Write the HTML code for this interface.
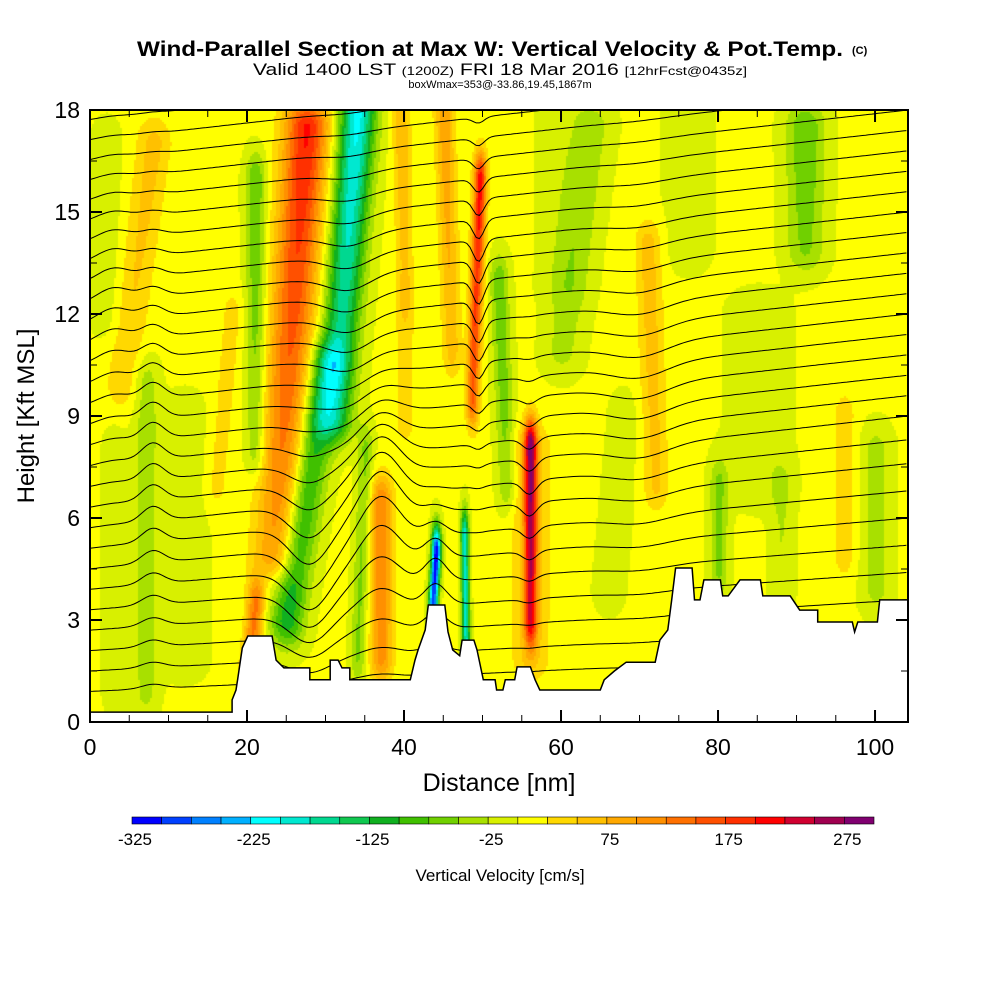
<!DOCTYPE html>
<html><head><meta charset="utf-8">
<style>
body{margin:0;background:#fff;width:1000px;height:1000px;overflow:hidden;font-family:"Liberation Sans",sans-serif}
#wrap{position:relative;width:1000px;height:1000px}
canvas{position:absolute;left:90px;top:110px}
svg{position:absolute;left:0;top:0}
</style></head><body>
<div id="wrap">
<canvas id="cv" width="818" height="612"></canvas>
<svg id="sv" width="1000" height="1000"></svg>
</div>
<script>
// ---- data ----
const terrainX=[0,18.1,18.1,18.6,18.8,19.4,20.1,23.2,23.7,24.7,28.0,28.0,30.6,30.6,31.6,32.1,33.1,33.1,40.8,41.4,41.8,42.7,43.1,45.2,45.6,46.2,47.1,47.4,48.9,49.3,50.1,51.6,51.8,52.6,52.9,54.1,54.4,56.1,56.7,57.3,65.0,65.5,66.8,68.3,72.0,72.6,73.6,74.1,74.6,76.7,77.0,77.7,78.2,80.3,80.6,81.3,82.8,85.4,85.7,89.2,90.4,92.7,92.7,97.1,97.4,97.8,100.3,100.6,104.2];
const terrainZ=[0.29,0.29,0.65,0.94,1.24,2.18,2.53,2.53,1.82,1.59,1.59,1.24,1.24,1.82,1.82,1.59,1.59,1.24,1.24,1.82,2.12,2.71,3.44,3.44,2.65,2.12,1.95,2.41,2.41,2.12,1.24,1.24,0.94,0.94,1.24,1.24,1.62,1.62,1.24,0.94,0.94,1.24,1.5,1.76,1.76,2.41,2.71,3.59,4.53,4.53,3.59,3.59,4.18,4.18,3.71,3.71,4.18,4.18,3.71,3.71,3.29,3.29,2.94,2.94,2.65,2.94,2.94,3.59,3.59];
// w features: segment from (x0,z0,a0) top to (x1,z1,a1) bottom, gaussian width
const featX0=[27.5,34,30,21,49.6,56,44,47.6,37,35,45,39.5,52,91,8,21,7,80,64,71,56, 12,2,60,85,100,96,76,40,18,3,68,88];
const featZ0=[17.5,18,10.5,16,16,8.2,5,5.5,6.5,8,18,18,13,17.5,17,3.5,10,7,17.5,14,8, 9,17,18,12,8,9,18,12,12,8,9,7];
const featA0=[200,-215,-110,-80,210,230,-330,-200,120,-60,90,70,-75,-80,55,130,-45,-60,-40,60,60, -20,-20,-20,-20,-40,35,-20,40,30,-20,-20,-30];
const featX1=[23.5,31,25,21,48.6,56,43.6,47.8,37,34,46,40,53,91,4,20,7,80,60,72,56, 12,2,60,85,100,96,76,40,16,3,66,88];
const featZ1=[5,9,3,8,9.5,3,3.6,2,2,2,11,13,7,14,10,1,1,4.5,11,7,2, 2,12,13,7,4,5,14,9,7,1,4,4];
const featA1=[100,-140,-120,-60,150,180,-300,-190,110,-60,60,50,-60,-60,40,120,-40,-60,-40,50,50, -20,-20,-20,-20,-40,35,-20,40,30,-20,-20,-30];
const featW=[2.8,2.3,2.2,1.3,0.8,0.8,0.6,0.5,1.4,1.0,1.2,1.1,1.2,2.5,2.2,1.1,1.6,1.2,2.5,1.6,2.4, 3,2,3,4,2,1.5,3,1.2,1.5,1.5,2,1.5];
const baseW=5;
// theta contour base heights (left, right), kft
const thetaZL=[0.9,1.5,2.1,2.7,3.3,3.9,4.5,5.1,5.7,6.3,6.9,7.5,8.1,8.7,9.3,9.9,10.5,11.1,11.7,12.3,12.9,13.5,14.1,14.7,15.3,15.9,16.5,17.1,17.7];
const thetaZR=[2.0,2.8,3.6,4.4,5.2,6.0,6.8,7.6,8.3,9.0,9.6,10.2,10.8,11.4,12.0,12.6,13.2,13.8,14.4,15.0,15.6,16.2,16.8,17.4,18.0,18.6,19.2,19.8,20.4];
// displacement bumps
const bumpX=[37,28,49.5,56,8,44,33,3,70];
const bumpZ=[6,5,13,7,8,4,12,12,10];
const bumpA=[1.4,-1.2,-0.7,-0.4,0.5,0.7,-0.5,0.4,-0.4];
const bumpWx=[3.5,3.5,1.0,1.3,2,2,4,3,5];
const bumpWz=[3,3,4,3,6,2,4,4,5];
const colorbarEdges=[-325,-300,-275,-250,-225,-200,-175,-150,-125,-100,-75,-50,-25,0,25,50,75,100,125,150,175,200,225,250,275,300];
const colorbarLabels=[-325,-225,-125,-25,75,175,275];
const xTicks=[0,20,40,60,80,100];
const yTicks=[0,3,6,9,12,15,18];
const colors=["#0000ff","#0040ff","#0080ff","#00b0ff","#00ffff","#00e8d0","#00d890","#10c850","#10b020","#40c000","#70d000","#a8e000","#d8f000","#ffff00","#ffd800","#ffc000","#ffa800","#ff9000","#ff7000","#ff5000","#ff3000","#ff0000","#d00030","#a00050","#800070"];
// ---- axes ----
const PX0=90,PX1=908,PY0=722,PY1=110;
const sx=x=>PX0+x*(818/104.2);
const sy=z=>PY0-z*(612/18);
function wAt(x,z){let w=baseW;for(let i=0;i<featX0.length;i++){const zt=featZ0[i],zb=featZ1[i];let t=(z-zb)/(zt-zb),f=1;if(t<0){f=Math.exp(-Math.pow((z-zb)/0.8,2));t=0}else if(t>1){f=Math.exp(-Math.pow((z-zt)/0.8,2));t=1}const xc=featX1[i]+t*(featX0[i]-featX1[i]);const a=featA1[i]+t*(featA0[i]-featA1[i]);w+=f*a*Math.exp(-Math.pow((x-xc)/featW[i],2));}return w;}
const cv=document.getElementById('cv'),ctx=cv.getContext('2d');
for(let py=0;py<612;py+=2)for(let px=0;px<818;px+=2){const x=px*104.2/818,z=18-py*18/612;let idx=Math.floor((wAt(x,z)+325)/25);idx=Math.max(0,Math.min(24,idx));ctx.fillStyle=colors[idx];ctx.fillRect(px,py,2,2);}
const NS='http://www.w3.org/2000/svg',sv=document.getElementById('sv');
function mk(t,a,parent){const e=document.createElementNS(NS,t);for(const k in a)e.setAttribute(k,a[k]);(parent||sv).appendChild(e);return e;}
// theta lines
const gT=mk('g',{});


mk('clipPath',{id:'pc'}).appendChild(document.createElementNS(NS,'rect'));
const cr=sv.querySelector('#pc rect');cr.setAttribute('x',PX0);cr.setAttribute('y',PY1);cr.setAttribute('width',818);cr.setAttribute('height',612);
gT.setAttribute('clip-path','url(#pc)');
for(let i=0;i<thetaZL.length;i++){let d='';for(let x=0;x<=104.2;x+=0.4){const f=x/104.2;let z=thetaZL[i]+(thetaZR[i]-thetaZL[i])*f;let dz=0;for(let j=0;j<bumpX.length;j++)dz+=bumpA[j]*Math.exp(-Math.pow((x-bumpX[j])/bumpWx[j],2)-Math.pow((z-bumpZ[j])/bumpWz[j],2));z+=dz;d+=(d?'L':'M')+sx(x).toFixed(1)+','+sy(z).toFixed(1);}
const p=mk('path',{d:d,fill:'none',stroke:'#000','stroke-width':1},gT);

}
// terrain
let td='M'+sx(terrainX[0])+','+sy(0);for(let i=0;i<terrainX.length;i++)td+='L'+sx(terrainX[i]).toFixed(1)+','+sy(terrainZ[i]).toFixed(1);td+='L'+sx(104.2)+','+sy(0)+'Z';
const ter=mk('path',{d:td,fill:'#fff',stroke:'#000','stroke-width':1.5});


// frame
const fr=mk('rect',{x:PX0,y:PY1,width:818,height:612,fill:'none',stroke:'#000','stroke-width':2});


for(let x=0;x<=104;x+=5){const M=x%20===0,L=M?12:7;mk('line',{x1:sx(x),x2:sx(x),y1:PY0,y2:PY0-L,stroke:'#000','stroke-width':M?2:1});mk('line',{x1:sx(x),x2:sx(x),y1:PY1,y2:PY1+L,stroke:'#000','stroke-width':M?2:1});}
for(let z=0;z<=18;z+=1.5){const M=z%3===0,L=M?12:7;mk('line',{x1:PX0,x2:PX0+L,y1:sy(z),y2:sy(z),stroke:'#000','stroke-width':M?2:1});mk('line',{x1:PX1,x2:PX1-L,y1:sy(z),y2:sy(z),stroke:'#000','stroke-width':M?2:1});}
xTicks.forEach(v=>{const t=mk('text',{x:sx(v),y:755,'font-size':23,'text-anchor':'middle'});t.textContent=v;

});
yTicks.forEach(v=>{const t=mk('text',{x:80,y:sy(v)+8,'font-size':23,'text-anchor':'end'});t.textContent=v;

});
// colorbar
const cbX0=132,cbW=742/25;
for(let i=0;i<25;i++){const r=mk('rect',{x:cbX0+i*cbW,y:817,width:cbW,height:7,fill:colors[i],stroke:'#000','stroke-width':0.6});

}
colorbarLabels.forEach(v=>{const i=colorbarEdges.indexOf(v);const t=mk('text',{x:cbX0+i*cbW+3,y:845,'font-size':17,'text-anchor':'middle'});t.textContent=v;

});
</script>
<svg width="1000" height="1000" style="pointer-events:none">
<text x="490" y="56" font-size="21" font-weight="bold" text-anchor="middle" textLength="706" lengthAdjust="spacingAndGlyphs">Wind-Parallel Section at Max W: Vertical Velocity &amp; Pot.Temp.</text>
<text x="852" y="54" font-size="11" font-weight="bold">(C)</text>
<text x="500" y="75" font-size="17" text-anchor="middle" textLength="494" lengthAdjust="spacingAndGlyphs">Valid 1400 LST <tspan font-size="12">(1200Z)</tspan> FRI 18 Mar 2016 <tspan font-size="12">[12hrFcst@0435z]</tspan></text>
<text x="500" y="88" font-size="11" text-anchor="middle">boxWmax=353@-33.86,19.45,1867m</text>
<text x="499" y="791" font-size="25" text-anchor="middle">Distance [nm]</text>
<text transform="translate(34,416) rotate(-90)" font-size="24" text-anchor="middle">Height [Kft MSL]</text>
<text x="500" y="881" font-size="17" text-anchor="middle">Vertical Velocity [cm/s]</text>
</svg>
</body></html>
